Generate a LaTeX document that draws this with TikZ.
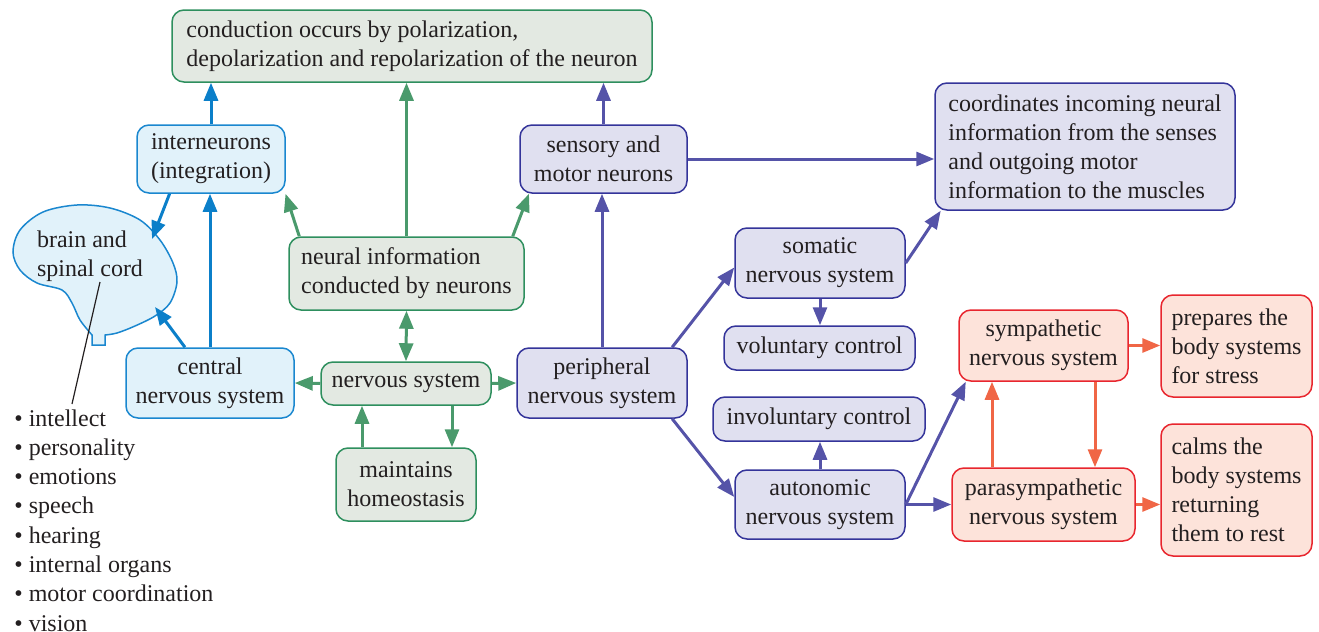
\documentclass[tikz,border=0pt]{standalone}
\usepackage{fontspec}
\setmainfont{Liberation Serif}
\usepackage{xcolor}
\usetikzlibrary{arrows.meta,positioning,calc}
\definecolor{inkgray}{HTML}{231F20}
\definecolor{blueline}{HTML}{1A87CF}
\definecolor{bluefill}{HTML}{E1F2FA}
\definecolor{bluearrow}{HTML}{0B7FC9}
\definecolor{greenline}{HTML}{2E8F5E}
\definecolor{greenfill}{HTML}{E3E9E2}
\definecolor{greenarrow}{HTML}{4A9A6C}
\definecolor{purpleline}{HTML}{34349A}
\definecolor{purplefill}{HTML}{E0E0F0}
\definecolor{purplearrow}{HTML}{5553A8}
\definecolor{redline}{HTML}{E8262E}
\definecolor{redfill}{HTML}{FDE3DA}
\definecolor{redarrow}{HTML}{F06646}
\tikzset{
  box/.style={rounded corners=6pt, line width=0.75pt, inner sep=3pt,
    align=center, text=inkgray, font=\fontsize{12}{14.5}\selectfont},
  bluebox/.style={box, draw=blueline, fill=bluefill},
  greenbox/.style={box, draw=greenline, fill=greenfill},
  purplebox/.style={box, draw=purpleline, fill=purplefill},
  redbox/.style={box, draw=redline, fill=redfill},
  link/.style={every edge/.style={draw=#1, ->, line width=1.5pt}},
}

\begin{document}
\begin{tikzpicture}[
  x=0.5pt, y=-0.5pt,
  >={Triangle[length=9pt,width=7pt]},
]
\useasboundingbox (0,0) rectangle (1319,632);

% brain outline
\draw[line width=0.75pt, draw=blueline, fill=bluefill]
  (105,345) -- (92,345) -- (92,335) -- plot[smooth, tension=0.55] coordinates {
    (92,335) (80,320) (72,303) (62,290) (37,283) (20,270) (13,252) (20,230)
    (43,212) (77,205) (110,208) (140,220) (160,240) (173,263) (177,282)
    (170,303) (155,316) (135,326) (117,333) (105,335)} -- cycle;
\node[align=left, text=inkgray, font=\fontsize{12}{14.5}\selectfont] (brain) at (90,256) {brain and\\spinal cord};
\coordinate (brainin) at (152,239);
\coordinate (brainlow) at (155,307);
\coordinate (cordpt) at (100,282);

% green row
\node[greenbox, minimum width=240pt, minimum height=36pt, align=left] (cond) at (412,46)
  {conduction occurs by polarization,\\depolarization and repolarization of the neuron};
\node[greenbox, minimum width=117.5pt, minimum height=36.5pt, align=left] (neural) at (406.5,273.5)
  {neural information\\conducted by neurons};
\node[greenbox, minimum width=85pt, minimum height=21.5pt] (ns) at (406,383.5) {nervous system};
\node[greenbox, minimum width=70pt, minimum height=36.5pt] (homeo) at (406,484.5) {maintains\\homeostasis};

% central side
\node[bluebox, minimum width=74pt, minimum height=34pt] (inter) at (211,159) {interneurons\\(integration)};
\node[bluebox, minimum width=84pt, minimum height=35pt] (cns) at (210,383) {central\\nervous system};

% peripheral side
\node[purplebox, minimum width=83.5pt, minimum height=34pt] (sens) at (603.5,159) {sensory and\\motor neurons};
\node[purplebox, minimum width=150pt, minimum height=63.5pt, align=left] (coord) at (1085,146.5)
  {coordinates incoming neural\\information from the senses\\and outgoing motor\\information to the muscles};
\node[purplebox, minimum width=85pt, minimum height=35pt] (pns) at (602,383) {peripheral\\nervous system};
\node[purplebox, minimum width=85pt, minimum height=35pt] (somatic) at (820,263) {somatic\\nervous system};
\node[purplebox, minimum width=95.5pt, minimum height=22pt] (volun) at (819.5,348) {voluntary control};
\node[purplebox, minimum width=106pt, minimum height=22pt] (invol) at (819,419) {involuntary control};
\node[purplebox, minimum width=85pt, minimum height=34.5pt] (auto) at (820,504.5) {autonomic\\nervous system};

% autonomic branches
\node[redbox, minimum width=84.5pt, minimum height=35.5pt] (sympa) at (1043.5,345.5) {sympathetic\\nervous system};
\node[redbox, minimum width=91.5pt, minimum height=36.5pt] (para) at (1043.5,504.5) {parasympathetic\\nervous system};
\node[redbox, minimum width=75.5pt, minimum height=51pt, align=left] (stress) at (1236.5,346)
  {prepares the\\body systems\\for stress};
\node[redbox, minimum width=75.5pt, minimum height=66pt, align=left] (rest) at (1236.5,490)
  {calms the\\body systems\\returning\\them to rest};

% functions list
\node[anchor=north west, inner sep=0pt, align=left, text=inkgray,
  font=\fontsize{12}{14.65}\selectfont] (funcs) at (14,409)
  {\textbullet\ intellect\\\textbullet\ personality\\\textbullet\ emotions\\\textbullet\ speech\\
   \textbullet\ hearing\\\textbullet\ internal organs\\\textbullet\ motor coordination\\\textbullet\ vision};
\coordinate (listpt) at (72,404);
\draw[line width=0.6pt, inkgray] (cordpt) -- (listpt);

\coordinate (nsdown) at ([xshift=23pt]ns.south);
\coordinate (homeoup) at ([xshift=-22pt]homeo.north);
\coordinate (paraup) at ([xshift=-25.75pt]para.north);
\coordinate (sympadown) at ([xshift=25.75pt]sympa.south);

\path[link=bluearrow]
(inter.north) edge (inter.north |- cond.south)
(inter.-140) edge (brainin)
(cns.north) edge (cns.north |- inter.south)
(cns.125) edge (brainlow);

\path[link=greenarrow]
(neural.north) edge (neural.north |- cond.south)
([xshift=5.5pt]neural.north west) edge (inter.-25)
([xshift=-6pt]neural.north east) edge (sens.-155)
(ns.north) edge[<->] (neural.south)
(ns.west) edge (cns.east)
(ns.east) edge (pns.west)
(nsdown) edge (nsdown |- homeo.north)
(homeoup) edge (homeoup |- ns.south);

\path[link=purplearrow]
(sens.north) edge (sens.north |- cond.south)
(pns.north) edge (pns.north |- sens.south)
(sens.east) edge (sens.east -| coord.west)
(pns.27) edge (somatic.-177)
(pns.-27) edge (auto.175)
(somatic.east) edge (coord.-156)
(somatic.south) edge (somatic.south |- volun.north)
(auto.north) edge (auto.north |- invol.south)
(auto.east) edge (sympa.-155)
(auto.east) edge (para.west);

\path[link=redarrow]
(paraup) edge (paraup |- sympa.south)
(sympadown) edge (sympadown |- para.north)
(sympa.east) edge (sympa.east -| stress.west)
(para.east) edge (para.east -| rest.west);

\end{tikzpicture}
\end{document}
